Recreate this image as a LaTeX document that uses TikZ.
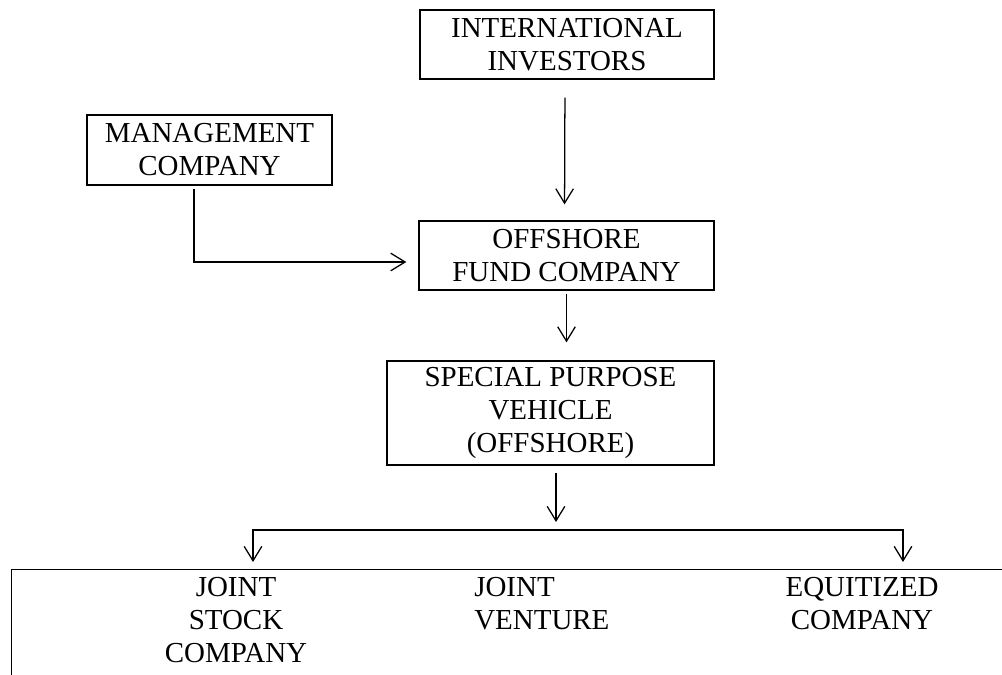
\documentclass[tikz,border=0pt]{standalone}
\usepackage{fontspec}
\setmainfont{Liberation Serif}
\usetikzlibrary{arrows.meta, calc}

\begin{document}
\begin{tikzpicture}[x=0.025cm, y=-0.025cm,
    box/.style={draw, line width=0.9pt, inner sep=0pt, align=center, font=\fontsize{20.6}{23.5}\selectfont},
    txt/.style={inner sep=0pt, font=\fontsize{20.6}{23.5}\selectfont},
    arr/.style={-{Straight Barb[length=3.6mm, width=4.4mm]}, line width=0.9pt}]
  \useasboundingbox (0,0) rectangle (1002,675);

  \node[box, minimum width=7.35cm, minimum height=1.725cm] (invest) at (567,44.5) {INTERNATIONAL\\INVESTORS};
  \node[box, minimum width=6.125cm, minimum height=1.75cm] (mgmt) at (209.5,150) {MANAGEMENT\\COMPANY};
  \node[box, minimum width=7.375cm, minimum height=1.725cm] (fund) at (566.5,255.5) {OFFSHORE\\FUND COMPANY};
  \node[box, minimum width=8.175cm, minimum height=2.6cm] (spv) at (550.5,413) {SPECIAL PURPOSE\\VEHICLE\\(OFFSHORE)};
  \node[draw, line width=0.9pt, anchor=north west, minimum width=25.25cm, minimum height=4cm] (targets) at (11,569) {};

  \node[txt, align=center] (jsc) at (236,620) {JOINT\\STOCK\\COMPANY};
  \node[txt, align=left, anchor=west] (jv) at (474,604) {JOINT\\VENTURE};
  \node[txt, align=center] (ec) at (862,604) {EQUITIZED\\COMPANY};

  \coordinate (split) at (556,530);
  \coordinate (jsctop) at (253,569);
  \coordinate (ectop) at (903,569);

  \draw[arr, shorten <=0.45cm, shorten >=0.4cm] ($(invest.south)+(-2,0)$) -- ($(fund.north)+(-2,0)$);
  \draw[arr, shorten <=0.075cm, shorten >=0.3cm] ($(mgmt.south)+(-15.5,0)$) |- ($(fund.west)+(0,6.5)$);
  \draw[arr, shorten <=0.075cm, shorten >=0.45cm] (fund.south) -- (fund.south |- spv.north);
  \draw[arr, shorten <=0.175cm, shorten >=0.2cm] (split |- spv.south) -- (split);
  \draw[arr, shorten >=0.175cm] (split) -| (jsctop);
  \draw[arr, shorten >=0.175cm] (split) -| (ectop);
\end{tikzpicture}
\end{document}
